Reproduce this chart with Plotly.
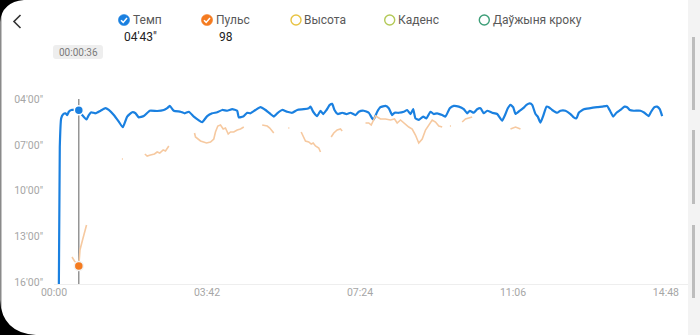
import plotly.graph_objects as go

# ---------------- data ----------------
# pace (blue): elapsed seconds, pace in seconds per km
pace_t = [7, 8.4, 10.4, 13.3, 16.7, 19.2, 21.5, 25.0, 28.7, 36,
          40.9, 47.2, 50.5, 54, 60.2, 67.5, 74.7, 79.5, 86.8, 94,
          99.8, 106.2, 113.5, 118.3, 123, 130.3, 139, 149.7, 159.3, 164.3,
          168, 173.8, 183.6, 189.8, 195.6, 202.9, 209.2, 215, 222.3, 229.6,
          236.8, 244.1, 251.3, 258.6, 265.8, 268.1, 274.5, 280.3, 285.1, 292.4,
          299.6, 306.9, 314.2, 319, 323.9, 331.1, 338.4, 345.6, 352.9, 362.5,
          369.7, 372.2, 376.1, 381.9, 386.7, 390.6, 395.4, 400.2, 403.7, 407,
          411.8, 418.2, 424.4, 430.2, 437.5, 442.3, 449.5, 456.8, 461.7, 464,
          469, 473.7, 481, 485.8, 490.7, 494.1, 500.3, 507.6, 512.5, 517.3,
          521.2, 524.5, 529.3, 535.7, 540.5, 546.3, 551.1, 556, 563.3, 568.1,
          574.3, 580.1, 587.4, 594.6, 599.6, 603.3, 609.1, 614, 618.9, 623.6,
          628.6, 635.8, 643.1, 650.3, 655.1, 658.5, 662.4, 666.3, 669.7, 675.9,
          680.8, 685.6, 690.4, 693.9, 698.7, 702, 705.9, 709.8, 714.6, 718,
          722.9, 730.2, 734.9, 742.2, 749.5, 754.2, 758.2, 761.5, 768.8, 778.5,
          788.2, 795.5, 802.7, 807.5, 811.4, 816.2, 822, 827.8, 831.7, 835.5,
          841.3, 851, 856.8, 863, 866.5, 871.3, 875.2, 879, 882.5]
pace_s = [990, 427, 315, 299, 295, 302, 289, 282, 282, 283,
          302, 319, 302, 291, 295, 285, 275, 282, 302, 328,
          350, 308, 291, 295, 311, 306, 285, 286, 282, 275,
          266, 285, 289, 295, 289, 308, 321, 330, 306, 295,
          291, 282, 285, 279, 285, 311, 308, 293, 295, 282,
          271, 282, 298, 308, 295, 282, 289, 293, 282, 279,
          275, 269, 289, 306, 285, 298, 282, 262, 258, 282,
          298, 293, 298, 293, 302, 289, 285, 293, 315, 319,
          289, 271, 266, 275, 302, 293, 293, 289, 282, 298,
          279, 315, 321, 308, 315, 289, 298, 295, 302, 308,
          275, 266, 269, 279, 295, 285, 293, 279, 275, 295,
          285, 293, 298, 324, 298, 275, 262, 271, 298, 285,
          275, 262, 256, 262, 298, 308, 332, 306, 269, 271,
          282, 293, 285, 285, 298, 311, 315, 293, 279, 275,
          271, 269, 266, 289, 308, 293, 282, 269, 271, 282,
          285, 285, 293, 306, 289, 271, 269, 279, 306]

# heart rate (orange, faded): elapsed seconds, bpm (None = gap)
hr_t = [26.1, 29.7, 36, 37.7, 41.4, 44.3, 47.2, None,
        98.5, 100, None,
        131.8, 135.2, 140, 145.8, 149.7, 153.5, 158.4, 161.8, 166.6, None,
        203.9, 205.3, 212.6, 221.3, 227.1, 231.9, 234.3, 237.7, 241.6, 245.5,
        248.8, 252.8, 256.1, 260.9, 265.8, 270.6, 275.4, None,
        302.1, 309.4, 313.1, 316.6, 318.9, None,
        340, 341.5, None,
        358.7, 361.6, 364.9, 369.7, 373.2, 376.1, 379.4, 384.2, 386.7, None,
        402.2, 406, 410.9, 415.7, 418.2, None,
        452, 456.8, 460.3, 466.6, 469, 473.7, 481, 488.3, 494.1, 498,
        502.8, 507.6, 514.8, 519.8, 524.5, 529.3, 534.3, 539.1, 543.8, 548.8,
        553.6, 558.4, 563.3, None,
        574.5, 576, None,
        592.3, 597.1, 601.9, 606.8, None,
        662.4, 669.7, 676.9]
hr_v = [102.5, 100.5, 98, 106, 111, 115, 118.5, None,
        151.5, 151.5, None,
        154, 153, 153.5, 154, 155, 154.5, 156, 155.5, 158, None,
        164.5, 162.5, 160.5, 159.5, 160, 161.5, 165, 168, 168.5, 166.5,
        167, 164, 165, 165, 166, 166.5, 167.5, None,
        168.5, 168, 167, 165.5, 164.5, None,
        167, 167, None,
        165, 163, 160.5, 160, 159, 159.5, 158, 157, 155, None,
        162.5, 164.5, 166, 166.5, 165.5, None,
        169.5, 169.5, 168.5, 173, 172.5, 171.5, 171.5, 171, 171.5, 169.5,
        171, 169.5, 167.5, 166.5, 163.5, 159.5, 161.5, 166, 168.5, 171,
        170, 168, 167.5, None,
        168, 168, None,
        170, 171.5, 172, 172.5, None,
        166.5, 167.5, 166.5]

x_tickvals = [0, 222, 444, 666, 888]
x_ticktext = ["00:00", "03:42", "07:24", "11:06", "14:48"]
y_tickvals = [240, 420, 600, 780, 960]
y_ticktext = ["04'00\"", "07'00\"", "10'00\"", "13'00\"", "16'00\""]

cursor_t = 36
cursor_pace = 283
cursor_hr = 98
cursor_label = "00:00:36"
cursor_pace_text = "04'43\""
cursor_hr_text = "98"

series_names = ["Темп", "Пульс", "Высота", "Каденс", "Даўжыня кроку"]
series_colors = ["#1a80e0", "#f47b20", "#e8c342", "#b3c957", "#3d9e78"]
series_checked = [True, True, False, False, False]

# ---------------- layout helpers ----------------
W, H = 700, 335
L, R, T, B = 54, 12, 96, 51
PW, PH = W - L - R, H - T - B


def fx(px):
    return (px - L) / PW


def fy(py):
    return (T + PH - py) / PH


def path_px(cmds):
    out = []
    for c in cmds:
        if isinstance(c, str):
            out.append(c)
        else:
            out.append(f"{fx(c[0]):.5f},{fy(c[1]):.5f}")
    return " ".join(out)


fig = go.Figure()

fig.add_trace(go.Scatter(
    x=hr_t, y=hr_v, mode="lines", yaxis="y2",
    line=dict(color="#f6c9a0", width=1.6), connectgaps=False,
    hoverinfo="skip", showlegend=False))

fig.add_trace(go.Scatter(
    x=pace_t, y=pace_s, mode="lines",
    line=dict(color="#1a80e0", width=2.2, shape="spline", smoothing=0.4),
    hoverinfo="skip", showlegend=False))

fig.add_trace(go.Scatter(
    x=[cursor_t], y=[cursor_pace], mode="markers",
    marker=dict(color="#1a80e0", size=9, line=dict(color="white", width=1.5)),
    hoverinfo="skip", showlegend=False))

fig.add_trace(go.Scatter(
    x=[cursor_t], y=[cursor_hr], mode="markers", yaxis="y2",
    marker=dict(color="#f47b20", size=9, line=dict(color="#f2f2f2", width=1.5)),
    hoverinfo="skip", showlegend=False))

shapes = []
# cursor line
shapes.append(dict(type="line", xref="x", yref="paper", x0=cursor_t, x1=cursor_t,
                   y0=0, y1=fy(99), line=dict(color="#7a7a7a", width=1.2), layer="below"))
# tooltip box
bx0, bx1, by0, by1, rr = 53, 103, 45, 59, 3
shapes.append(dict(type="path", xref="paper", yref="paper",
                   path=path_px(["M", (bx0 + rr, by0), "L", (bx1 - rr, by0),
                                 "Q", (bx1, by0), (bx1, by0 + rr), "L", (bx1, by1 - rr),
                                 "Q", (bx1, by1), (bx1 - rr, by1), "L", (bx0 + rr, by1),
                                 "Q", (bx0, by1), (bx0, by1 - rr), "L", (bx0, by0 + rr),
                                 "Q", (bx0, by0), (bx0 + rr, by0), "Z"]),
                   fillcolor="#eeeeee", line=dict(width=0)))
# right side band and scrollbar
shapes.append(dict(type="rect", xref="paper", yref="paper", x0=fx(688), x1=fx(700),
                   y0=fy(335), y1=fy(0), fillcolor="#f3f3f3", line=dict(width=0)))
for a, b in [(37, 110), (130, 204), (225, 298)]:
    shapes.append(dict(type="rect", xref="paper", yref="paper", x0=fx(692), x1=fx(695),
                       y0=fy(b), y1=fy(a), fillcolor="#bdbdbd", line=dict(width=0)))
# left edge
shapes.append(dict(type="rect", xref="paper", yref="paper", x0=fx(0), x1=fx(1.5),
                   y0=fy(335), y1=fy(0), fillcolor="#8a8a8a", line=dict(width=0)))
# black rounded corners
shapes.append(dict(type="path", xref="paper", yref="paper",
                   path=path_px(["M", (0, 0), "L", (24, 0), "Q", (2, 2), (0, 22), "Z"]),
                   fillcolor="#000000", line=dict(width=0)))
shapes.append(dict(type="path", xref="paper", yref="paper",
                   path=path_px(["M", (0, 300), "Q", (2, 333), (36, 335), "L", (0, 335), "Z"]),
                   fillcolor="#000000", line=dict(width=0)))
# back arrow
shapes.append(dict(type="path", xref="paper", yref="paper",
                   path=path_px(["M", (20.5, 15), "L", (14, 21.5), "L", (20.5, 28)]),
                   line=dict(color="#333333", width=1.6)))

annotations = []
legend_cx = [124, 207, 296, 389.7, 484.3]
legend_tx = [131, 213.5, 301.5, 396, 490.5]
cy, r = 20, 5.6
for name, col, chk, cx, tx in zip(series_names, series_colors, series_checked, legend_cx, legend_tx):
    if chk:
        shapes.append(dict(type="circle", xref="paper", yref="paper",
                           x0=fx(cx - r), x1=fx(cx + r), y0=fy(cy + r), y1=fy(cy - r),
                           fillcolor=col, line=dict(color=col, width=0.5)))
        shapes.append(dict(type="path", xref="paper", yref="paper",
                           path=path_px(["M", (cx - 3, cy + 0.2), "L", (cx - 0.8, cy + 2.4),
                                         "L", (cx + 3, cy - 2)]),
                           line=dict(color="white", width=1.5)))
    else:
        shapes.append(dict(type="circle", xref="paper", yref="paper",
                           x0=fx(cx - r + 0.6), x1=fx(cx + r - 0.6),
                           y0=fy(cy + r - 0.6), y1=fy(cy - r + 0.6),
                           fillcolor="rgba(0,0,0,0)", line=dict(color=col, width=1.4)))
    annotations.append(dict(text=name, xref="paper", yref="paper", x=fx(tx), y=fy(cy),
                            xanchor="left", yanchor="middle", showarrow=False,
                            font=dict(family="Roboto", size=12, color="#595959")))

annotations.append(dict(text=cursor_pace_text, xref="paper", yref="paper", x=fx(140), y=fy(37),
                        xanchor="center", yanchor="middle", showarrow=False,
                        font=dict(family="Roboto", size=12, color="#222222")))
annotations.append(dict(text=cursor_hr_text, xref="paper", yref="paper", x=fx(226), y=fy(37),
                        xanchor="center", yanchor="middle", showarrow=False,
                        font=dict(family="Roboto", size=12, color="#222222")))
annotations.append(dict(text=cursor_label, xref="paper", yref="paper", x=fx(78), y=fy(52),
                        xanchor="center", yanchor="middle", showarrow=False,
                        font=dict(family="Roboto", size=10, color="#7a7a7a")))

fig.update_layout(
    width=W, height=H,
    margin=dict(l=L, r=R, t=T, b=B, pad=0),
    paper_bgcolor="white", plot_bgcolor="white",
    showlegend=False, hovermode=False,
    font=dict(family="Roboto"),
    xaxis=dict(range=[0, 920], tickvals=x_tickvals, ticktext=x_ticktext,
               showgrid=False, zeroline=False, showline=True, linecolor="#eeeeee",
               linewidth=1, ticks="", tickfont=dict(size=10.5, color="#a6a6a6"),
               ticklabelstandoff=-2, fixedrange=True),
    yaxis=dict(range=[967, 227], tickvals=y_tickvals, ticktext=y_ticktext,
               showgrid=False, zeroline=False, showline=False, ticks="",
               tickfont=dict(size=10.5, color="#a6a6a6"), ticklabelstandoff=10,
               fixedrange=True),
    yaxis2=dict(range=[89, 183], overlaying="y", side="right", visible=False,
                fixedrange=True),
    shapes=shapes, annotations=annotations,
)

fig.write_html("out.html", config={"displayModeBar": False})
